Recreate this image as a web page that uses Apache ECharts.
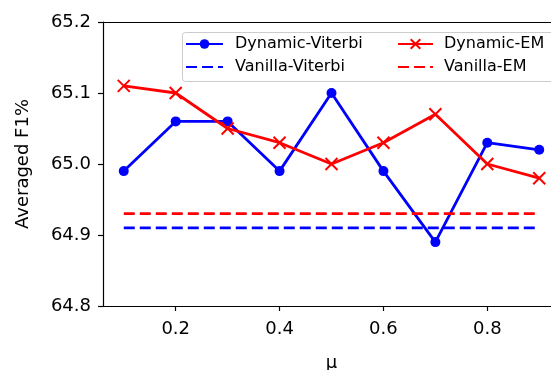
<!DOCTYPE html>
<html><head><meta charset="utf-8">
<script src="https://cdn.jsdelivr.net/npm/echarts@6/dist/echarts.min.js"></script>
<style>html,body{margin:0;padding:0;background:#fff}#c{width:551px;height:370px}</style>
</head><body><div id="c"></div>
<script>
const mu = [0.1, 0.2, 0.3, 0.4, 0.5, 0.6, 0.7, 0.8, 0.9];
const dynamicViterbi = [64.99, 65.06, 65.06, 64.99, 65.10, 64.99, 64.89, 65.03, 65.02];
const dynamicEM = [65.11, 65.10, 65.05, 65.03, 65.00, 65.03, 65.07, 65.00, 64.98];
const vanillaViterbi = [64.91, 64.91, 64.91, 64.91, 64.91, 64.91, 64.91, 64.91, 64.91];
const vanillaEM = [64.93, 64.93, 64.93, 64.93, 64.93, 64.93, 64.93, 64.93, 64.93];
const xTicks = [0.2, 0.4, 0.6, 0.8];
const yTicks = [64.8, 64.9, 65.0, 65.1, 65.2];

const pair = arr => mu.map((x, i) => [x, arr[i]]);
const FONT = 'DejaVu Sans';
const xSym = 'path://M0,0L10,10M10,0L0,10';

const chart = echarts.init(document.getElementById('c'), null, {renderer: 'canvas'});
chart.setOption({
  animation: false,
  backgroundColor: '#fff',
  textStyle: {fontFamily: FONT, color: '#000'},
  grid: {left: 103, top: 22, height: 284, width: 457, show: false, containLabel: false, outerBoundsMode: 'none'},
  xAxis: [{
    type: 'value', min: 0.06, max: 0.94,
    name: 'μ', nameLocation: 'middle', nameGap: 48,
    nameTextStyle: {fontSize: 18, fontFamily: FONT, color: '#000'},
    axisLine: {show: true, lineStyle: {color: '#000', width: 1.2}},
    axisTick: {show: true, inside: false, length: 5, lineStyle: {color: '#000', width: 1.2}, customValues: xTicks},
    axisLabel: {fontSize: 18, fontFamily: FONT, color: '#000', margin: 14, customValues: xTicks, formatter: v => v.toFixed(1)},
    splitLine: {show: false}
  }, {
    type: 'value', min: 0.06, max: 0.94, position: 'top',
    axisLine: {show: true, onZero: false, lineStyle: {color: '#000', width: 1.2}},
    axisTick: {show: false}, axisLabel: {show: false}, splitLine: {show: false}
  }],
  yAxis: {
    type: 'value', min: 64.8, max: 65.2,
    name: 'Averaged F1%', nameLocation: 'middle', nameGap: 71,
    nameTextStyle: {fontSize: 18, fontFamily: FONT, color: '#000'},
    axisLine: {show: true, lineStyle: {color: '#000', width: 1.2}},
    axisTick: {show: true, inside: false, length: 5, lineStyle: {color: '#000', width: 1.2}, customValues: yTicks},
    axisLabel: {fontSize: 18, fontFamily: FONT, color: '#000', margin: 12, customValues: yTicks, formatter: v => v.toFixed(1)},
    splitLine: {show: false}
  },
  legend: [
    {
      data: ['Dynamic-Viterbi', {name: 'Vanilla-Viterbi', itemStyle: {opacity: 0}}], orient: 'vertical',
      left: 185, top: 36, padding: 0, itemWidth: 37, itemHeight: 12, itemGap: 7,
      textStyle: {fontSize: 16, fontFamily: FONT, color: '#000', padding: [0, 0, 0, 7]}
    },
    {
      data: ['Dynamic-EM', {name: 'Vanilla-EM', itemStyle: {opacity: 0}}], orient: 'vertical',
      left: 397, top: 36, padding: 0, itemWidth: 35, itemHeight: 12, itemGap: 7,
      textStyle: {fontSize: 16, fontFamily: FONT, color: '#000', padding: [0, 0, 0, 6]}
    }
  ],
  graphic: [{
    type: 'rect', left: 182, top: 32, z: 0, zlevel: 0,
    shape: {width: 390, height: 49, r: 3},
    style: {fill: 'rgba(255,255,255,0.8)', stroke: '#cccccc', lineWidth: 1}
  }],
  series: [
    {
      name: 'Dynamic-Viterbi', type: 'line', data: pair(dynamicViterbi),
      symbol: 'circle', symbolSize: 10, showSymbol: true,
      lineStyle: {color: '#0000ff', width: 2.8}, itemStyle: {color: '#0000ff'}, z: 3
    },
    {
      name: 'Vanilla-Viterbi', type: 'line', data: pair(vanillaViterbi),
      symbol: 'none',
      lineStyle: {color: '#0000ff', width: 2.8, type: [11, 5]}, itemStyle: {color: '#0000ff'}, z: 3
    },
    {
      name: 'Dynamic-EM', type: 'line', data: pair(dynamicEM),
      symbol: xSym, symbolSize: 12, showSymbol: true,
      lineStyle: {color: '#ff0000', width: 2.8},
      itemStyle: {color: '#ff0000', borderColor: '#ff0000', borderWidth: 2}, z: 4
    },
    {
      name: 'Vanilla-EM', type: 'line', data: pair(vanillaEM),
      symbol: 'none',
      lineStyle: {color: '#ff0000', width: 2.8, type: [11, 5]}, itemStyle: {color: '#ff0000'}, z: 4
    }
  ]
});
</script>
</body></html>
